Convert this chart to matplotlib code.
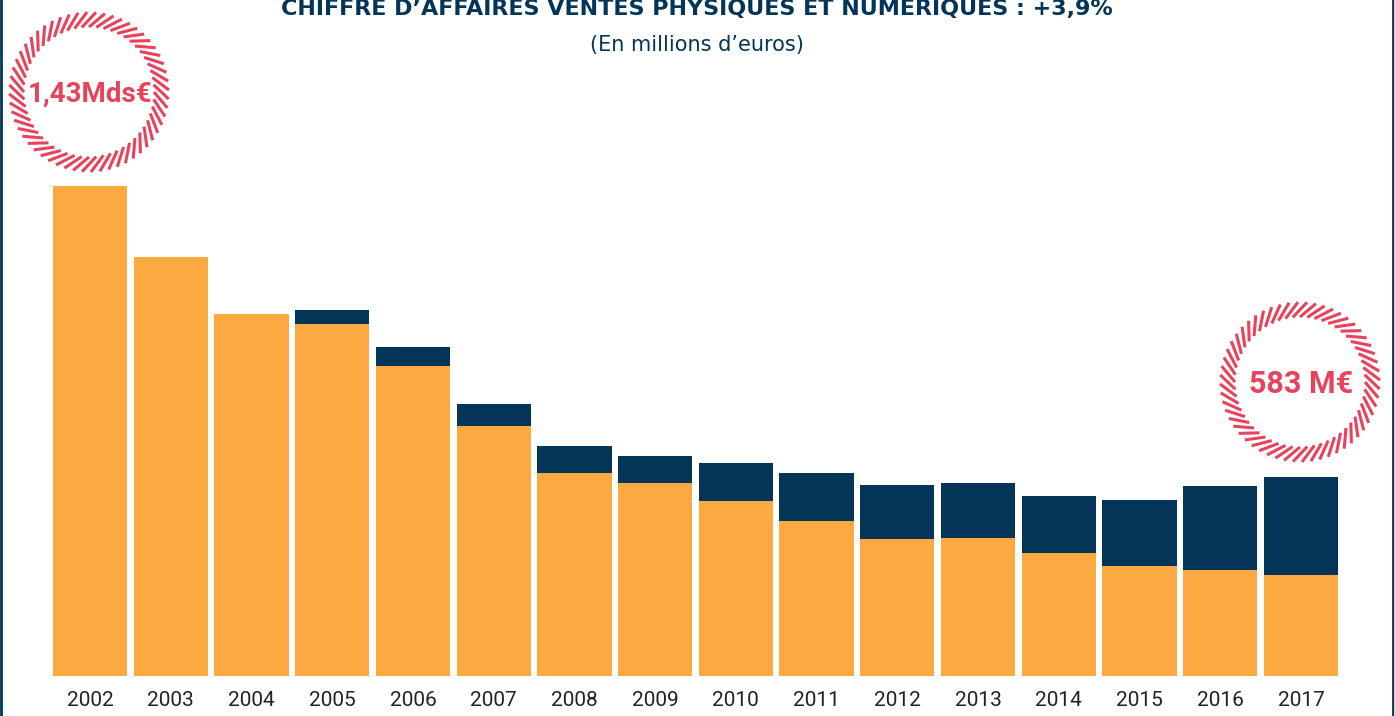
import matplotlib.pyplot as plt
import numpy as np

years = ['2002', '2003', '2004', '2005', '2006', '2007', '2008', '2009',
         '2010', '2011', '2012', '2013', '2014', '2015', '2016', '2017']
physique = [1430, 1223, 1056, 1027, 905, 730, 592, 563, 511, 452, 400, 403, 359, 321, 309, 295]
numerique = [0, 0, 0, 41, 55, 64, 79, 79, 111, 140, 157, 160, 166, 193, 245, 286]

title = "CHIFFRE D\u2019AFFAIRES VENTES PHYSIQUES ET NUMERIQUES : +3,9%"
subtitle = "(En millions d\u2019euros)"
badges = ["1,43Mds\u20ac", "583 M\u20ac"]

orange = '#FBA940'
navy = '#023557'
red = '#E8435C'

W, H = 1394, 716
fig = plt.figure(figsize=(W / 100, H / 100), dpi=100)
fig.patch.set_facecolor('white')

# bar chart
ax = fig.add_axes([49.6 / W, 40 / H, (1341.4 - 49.6) / W, 676 / H])
x = np.arange(len(years))
ax.bar(x, physique, width=0.92, color=orange)
ax.bar(x, numerique, width=0.92, bottom=physique, color=navy)
ax.set_xlim(-0.5, len(years) - 0.5)
ax.set_ylim(0, 676 / 0.343)
ax.set_xticks(x)
ax.set_xticklabels(years, fontsize=15, color='#222222', family='Roboto')
ax.tick_params(axis='x', length=0, pad=11)
ax.set_yticks([])
for s in ax.spines.values():
    s.set_visible(False)

# overlay in pixel coordinates
ov = fig.add_axes([0, 0, 1, 1], facecolor='none')
ov.set_xlim(0, W)
ov.set_ylim(H, 0)
ov.axis('off')

ov.text(697, 9, title, ha='center', va='center', fontsize=16, fontweight='bold', color=navy)
ov.text(697, 45, subtitle, ha='center', va='center', fontsize=15, color=navy)

# hatched rings
def ring(cx, cy, r_out=80, r_in=65, n=56):
    for a in np.linspace(0, 2 * np.pi, n, endpoint=False):
        a2 = a + 0.2
        ov.plot([cx + r_in * np.cos(a), cx + r_out * np.cos(a2)],
                [cy + r_in * np.sin(a), cy + r_out * np.sin(a2)],
                color=red, lw=2.2, solid_capstyle='butt')

ring(89, 92)
ring(1300, 382)
ov.text(90, 94, badges[0], ha='center', va='center', fontsize=20, fontweight='bold',
        color=red, family='Roboto')
ov.text(1301, 384, badges[1], ha='center', va='center', fontsize=22, fontweight='bold',
        color=red, family='Roboto')

# side borders
ov.plot([1, 1], [0, H], color=navy, lw=2)
ov.plot([1392.5, 1392.5], [0, H], color=navy, lw=2)

fig.savefig('out.png', dpi=100)
